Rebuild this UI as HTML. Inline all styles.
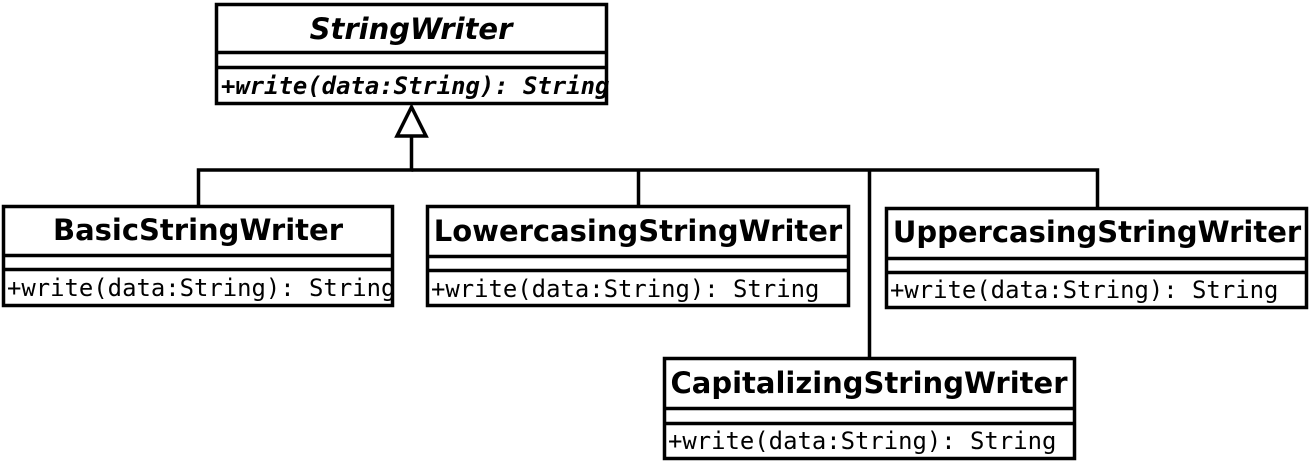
<!DOCTYPE html>
<html><head><style>
html,body{margin:0;padding:0;background:#fff;}
svg{display:block;}
.t{font-family:"DejaVu Sans","Liberation Sans",sans-serif;font-weight:bold;font-size:29px;}
.m{font-family:"DejaVu Sans Mono","Liberation Mono",monospace;font-size:23.9px;}
</style></head><body>
<svg width="1311" height="461" viewBox="0 0 1311 461" xmlns="http://www.w3.org/2000/svg" fill="none" stroke="#000" stroke-width="3.5">
<!-- StringWriter -->
<rect x="216.5" y="4.5" width="390" height="99" fill="#fff"/>
<line x1="216" y1="52.5" x2="607" y2="52.5"/>
<line x1="216" y1="67.5" x2="607" y2="67.5"/>
<text x="411" y="39" class="t" font-style="italic" text-anchor="middle" fill="#000" stroke="none">StringWriter</text>
<text x="221" y="94" class="m" font-style="italic" font-weight="bold" fill="#000" stroke="none">+write(data:String): String</text>

<!-- connectors -->
<polygon points="411.5,107 397,136 426,136" fill="#fff"/>
<polyline points="411.5,136 411.5,170 198.5,170 198.5,206"/>
<polyline points="411.5,170 1097.5,170 1097.5,208"/>
<line x1="638.5" y1="170" x2="638.5" y2="206"/>
<line x1="869.5" y1="170" x2="869.5" y2="358"/>

<!-- Basic -->
<rect x="3.5" y="206.5" width="389" height="99" fill="#fff"/>
<line x1="3" y1="255.5" x2="393" y2="255.5"/>
<line x1="3" y1="269.5" x2="393" y2="269.5"/>
<text x="198" y="240" class="t" text-anchor="middle" fill="#000" stroke="none">BasicStringWriter</text>
<text x="7" y="296" class="m" fill="#000" stroke="none">+write(data:String): String</text>

<!-- Lowercasing -->
<rect x="427.5" y="206.5" width="421" height="99" fill="#fff"/>
<line x1="427" y1="256.5" x2="849" y2="256.5"/>
<line x1="427" y1="270.5" x2="849" y2="270.5"/>
<text x="638" y="241" class="t" text-anchor="middle" fill="#000" stroke="none">LowercasingStringWriter</text>
<text x="431" y="297" class="m" fill="#000" stroke="none">+write(data:String): String</text>

<!-- Uppercasing -->
<rect x="886.5" y="208.5" width="420" height="99" fill="#fff"/>
<line x1="886" y1="258.5" x2="1307" y2="258.5"/>
<line x1="886" y1="272.5" x2="1307" y2="272.5"/>
<text x="1097" y="242" class="t" text-anchor="middle" fill="#000" stroke="none">UppercasingStringWriter</text>
<text x="890" y="298" class="m" fill="#000" stroke="none">+write(data:String): String</text>

<!-- Capitalizing -->
<rect x="664.5" y="358.5" width="410" height="100" fill="#fff"/>
<line x1="664" y1="408.5" x2="1075" y2="408.5"/>
<line x1="664" y1="423.5" x2="1075" y2="423.5"/>
<text x="869" y="393" class="t" text-anchor="middle" fill="#000" stroke="none">CapitalizingStringWriter</text>
<text x="668" y="449" class="m" fill="#000" stroke="none">+write(data:String): String</text>
</svg>
</body></html>
